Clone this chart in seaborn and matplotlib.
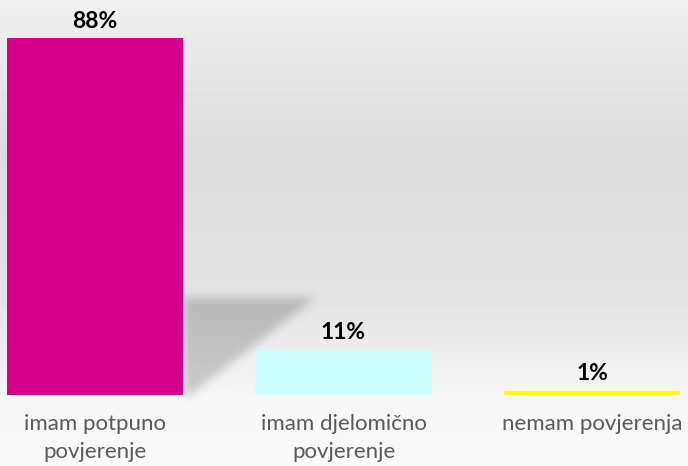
import matplotlib
matplotlib.use('Agg')
import matplotlib.pyplot as plt
import numpy as np
import pandas as pd
import seaborn as sns

# chart data
categories = ["imam potpuno\npovjerenje", "imam djelomično\npovjerenje", "nemam povjerenja"]
values = [88, 11, 1]
labels = ["88%", "11%", "1%"]
colors = ["#D6008F", "#CCFFFF", "#FFFF00"]

df = pd.DataFrame({"category": categories, "value": values})

sns.set_theme(style="white")
plt.rcParams['font.family'] = ['Lato', 'DejaVu Sans']

W, H = 688, 466
fig = plt.figure(figsize=(W / 100, H / 100), dpi=100)

# background: soft grey gradient plus blurred shadow behind the first bar
yy = np.arange(H)
shade = np.interp(yy, [0, 150, 300, 395, 466], [0.94, 0.865, 0.89, 0.965, 0.98])
bg = np.repeat(shade[:, None], W, axis=1)
mask = np.zeros((H, W))
for r in range(298, 396):
    t = (r - 298) / 97.0
    x1 = int(315 - t * 125)
    mask[r, 184:x1] = 1.0
k = np.exp(-np.linspace(-2.5, 2.5, 31) ** 2)
k /= k.sum()
mask = np.apply_along_axis(lambda m: np.convolve(m, k, mode="same"), 1, mask)
mask = np.apply_along_axis(lambda m: np.convolve(m, k, mode="same"), 0, mask)
mask[:, :184] = 0
bg = bg - 0.17 * mask
bg_ax = fig.add_axes([0, 0, 1, 1], zorder=0)
bg_ax.imshow(bg, cmap="gray", vmin=0, vmax=1, aspect="auto", interpolation="bilinear")
bg_ax.axis("off")

base = 395
ax = fig.add_axes([0, (H - base) / H, 1, base / H], zorder=1)
ax.patch.set_alpha(0)
sns.barplot(data=df, x="category", y="value", hue="category", palette=colors,
            width=0.71, legend=False, ax=ax, saturation=1, linewidth=0)
ax.set_xlim(-0.382, 2.386)
ax.set_ylim(0, 97.5)
for i, (v, lab) in enumerate(zip(values, labels)):
    ax.annotate(lab, (i, v), xytext=(0, 5), textcoords="offset points",
                ha="center", va="bottom", fontsize=16.5,
                fontweight="bold", color="black")
ax.set_xlabel("")
ax.set_ylabel("")
ax.set_yticks([])
ax.tick_params(axis="x", length=0, pad=14, labelsize=16, labelcolor="#595959")
for lbl in ax.get_xticklabels():
    lbl.set_linespacing(1.45)
for s in ax.spines.values():
    s.set_visible(False)

fig.savefig("out.png", dpi=100)
